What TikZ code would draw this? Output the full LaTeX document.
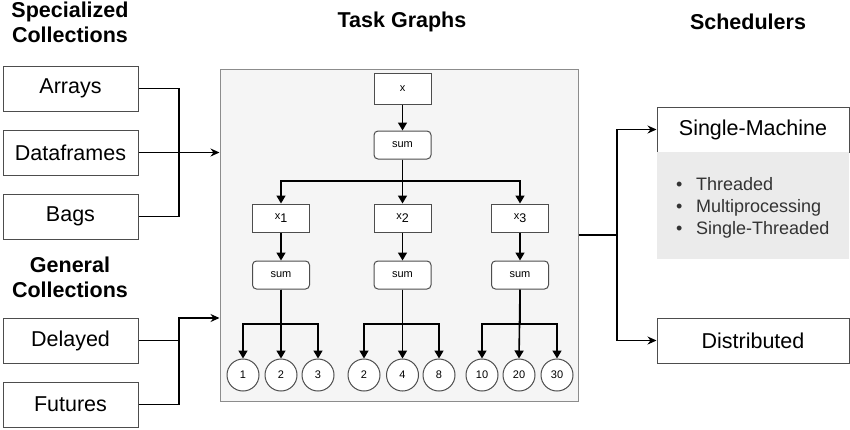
\documentclass[tikz,border=0pt]{standalone}
\usepackage{fontspec}
\setmainfont{Liberation Sans}
\usetikzlibrary{arrows.meta, positioning}
\definecolor{boxline}{HTML}{4D4D4D}
\definecolor{graphfill}{HTML}{F5F5F5}
\definecolor{graphline}{HTML}{8C8C8C}
\definecolor{panelfill}{HTML}{EBEBEB}
\definecolor{paneltext}{HTML}{333333}
\newcommand*{\bigtext}{\fontsize{21.5}{25}\selectfont}
\newcommand*{\smalltext}{\fontsize{11}{13}\selectfont}
\newcommand*{\xsub}[1]{x\raisebox{-3pt}{\fontsize{12.5}{14}\selectfont #1}}

\begin{document}
\begin{tikzpicture}[x=1pt,y=-1pt,node distance=64pt,on grid,
      >={Stealth[length=9pt,width=8pt]},
      coll/.style={draw=boxline,line width=1pt,minimum width=135pt,minimum height=45pt,inner sep=0pt,font=\bigtext},
      sched/.style={coll,minimum width=192pt},
      title/.style={align=center,font=\bigtext\bfseries},
      task/.style={draw=boxline,line width=1pt,fill=white,minimum width=57pt,minimum height=28pt,inner sep=0pt,font=\smalltext},
      op/.style={task,rounded corners=4pt},
      leaf/.style={circle,draw=boxline,line width=1pt,fill=white,minimum size=32pt,inner sep=0pt,font=\smalltext},
      flow/.style={line width=1.3pt},
      dep/.style={line width=1.6pt,-{Triangle[length=8pt,width=9pt]}}]
      \useasboundingbox (0,0) rectangle (850,429);

      % titles
      \node[title] (spec) at (70,22) {Specialized\\Collections};
      \node[title] (gen)  at (70,277.5) {General\\Collections};
      \node[title] (tg)   at (402,22) {Task Graphs};
      \node[title] (sch)  at (748,22) {Schedulers};

      % collections
      \node[coll] (arrays) at (70.5,88.5) {Arrays};
      \node[coll] (dataframes) [below=of arrays] {Dataframes};
      \node[coll] (bags) [below=of dataframes] {Bags};
      \node[coll] (delayed) at (70.5,340.5) {Delayed};
      \node[coll] (futures) [below=of delayed] {Futures};

      % task graph
      \node[draw=graphline,fill=graphfill,line width=1pt,minimum width=358pt,minimum height=332pt] (graph) at (399,235) {};
      \node[task,minimum height=31pt] (x0) at (402.5,88.5) {x};
      \node[op] (s0) at (402.5,145) {sum};
      \node[task] (x1) at (281,218) {\xsub{1}};
      \node[task] (x2) at (402.5,218) {\xsub{2}};
      \node[task] (x3) at (520,218) {\xsub{3}};
      \node[op] (s1) at (281,275) {sum};
      \node[op] (s2) at (402.5,275) {sum};
      \node[op] (s3) at (520,275) {sum};
      \node[leaf] (a1) at (243,375) {1};
      \node[leaf] (a2) at (281,375) {2};
      \node[leaf] (a3) at (318,375) {3};
      \node[leaf] (b1) at (364,375) {2};
      \node[leaf] (b2) at (402.5,375) {4};
      \node[leaf] (b3) at (439,375) {8};
      \node[leaf] (c1) at (482,375) {10};
      \node[leaf] (c2) at (519,375) {20};
      \node[leaf] (c3) at (557,375) {30};
      \coordinate (split) at (402.5,181);
      \coordinate (leafbar) at (0,324);

      \draw[dep] (x0) -- (s0);
      \draw[dep] (s0.south) -- (s0.south |- split) -| (x1.north);
      \draw[dep] (s0.south) -- (x2.north);
      \draw[dep] (s0.south) -- (s0.south |- split) -| (x3.north);
      \draw[dep] (x1) -- (s1);
      \draw[dep] (x2) -- (s2);
      \draw[dep] (x3) -- (s3);
      \draw[dep] (s1.south) -- (s1.south |- leafbar) -| (a1.north);
      \draw[dep] (s1.south) -- (a2.north);
      \draw[dep] (s1.south) -- (s1.south |- leafbar) -| (a3.north);
      \draw[dep] (s2.south) -- (s2.south |- leafbar) -| (b1.north);
      \draw[dep] (s2.south) -- (b2.north);
      \draw[dep] (s2.south) -- (s2.south |- leafbar) -| (b3.north);
      \draw[dep] (s3.south) -- (s3.south |- leafbar) -| (c1.north);
      \draw[dep] (s3.south) -- (c2.north);
      \draw[dep] (s3.south) -- (s3.south |- leafbar) -| (c3.north);

      % schedulers
      \node[sched] (single) at (753,129.5) {Single-Machine};
      \node[fill=panelfill,minimum width=192pt,minimum height=107pt,inner sep=0pt] (panel) at (753,205.5) {};
      \node[anchor=west,inner sep=0pt,align=left,text=paneltext,font=\fontsize{18}{22}\selectfont] (modes) at (676,208)
        {\makebox[20pt][l]{\textbullet}Threaded\\\makebox[20pt][l]{\textbullet}Multiprocessing\\\makebox[20pt][l]{\textbullet}Single-Threaded};
      \node[sched] (distributed) at (753,340.5) {Distributed};

      % connectors
      \coordinate (jin) at (179,318);
      \coordinate (jout) at (617,235);
      \draw[flow] (arrays.east) -- (arrays.east -| jin) |- (bags.east);
      \draw[flow,->] (dataframes.east) -- (graph.west |- dataframes.east);
      \draw[flow,->] (futures.east) -| (jin) -- (graph.west |- jin);
      \draw[flow] (delayed.east) -- (delayed.east -| jin);
      \draw[flow] (graph.east) -- (jout);
      \draw[flow,->] (jout) |- (single.west);
      \draw[flow,->] (jout) |- (distributed.west);
    \end{tikzpicture}
\end{document}
